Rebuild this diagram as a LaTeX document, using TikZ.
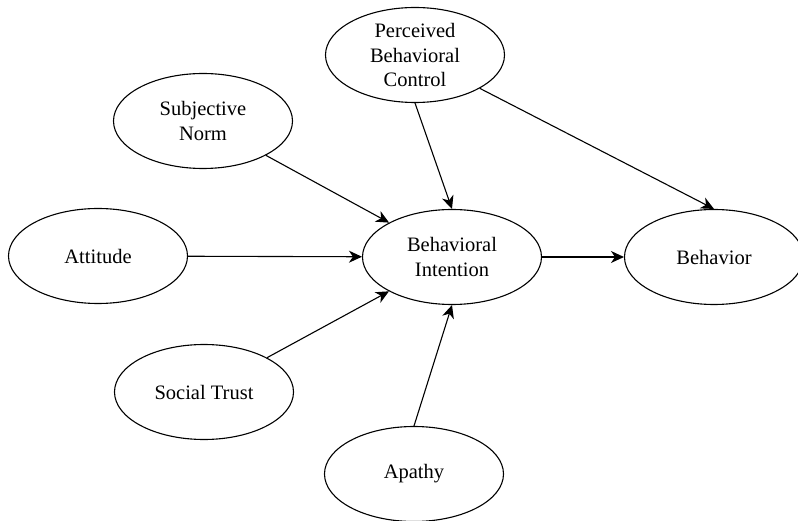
\documentclass[tikz,border=0pt]{standalone}
\usepackage{fontspec}
\setmainfont{Liberation Serif}
\usepackage{tikz}
\usetikzlibrary{shapes.geometric}
\usetikzlibrary{arrows.meta}
\tikzset{
        construct/.style={
          ellipse, draw, line width=1.1pt,
          minimum width=179pt, minimum height=95pt, inner sep=0pt,
          align=center, font=\fontsize{20.5}{24.5}\selectfont
          },
        path arrow/.style={
          line width=1.1pt,
          -{Stealth[length=13pt, width=12pt, inset=4pt]}
          },
}
\begin{document}
\begin{tikzpicture}[x=1pt, y=-1pt]
      % frame of the picture
      \useasboundingbox (0,0) rectangle (798,521);
      % CONSTRUCTS
      \node[construct] (pbc) at (415,55) {Perceived\\Behavioral\\Control};
      \node[construct] (norm) at (203,121) {Subjective\\Norm};
      \node[construct] (att) at (98,256) {Attitude};
      \node[construct] (bi) at (452,257) {Behavioral\\Intention};
      \node[construct] (beh) at (714,257) {Behavior};
      \node[construct] (trust) at (204,392) {Social Trust};
      \node[construct] (apathy) at (414,474) {Apathy};

      % PATHS
      % to intention
      \draw[path arrow] (pbc.south) -- (bi.north);
      \draw[path arrow] (norm) -- (bi);
      \draw[path arrow] (att) -- (bi);
      \draw[path arrow] (trust) -- (bi);
      \draw[path arrow] (apathy.north) -- (bi.south);
      % to behavior
      \draw[path arrow] (bi.east) -- (beh.west);
      \draw[path arrow] (pbc) -- (beh.north);
\end{tikzpicture}
\end{document}
